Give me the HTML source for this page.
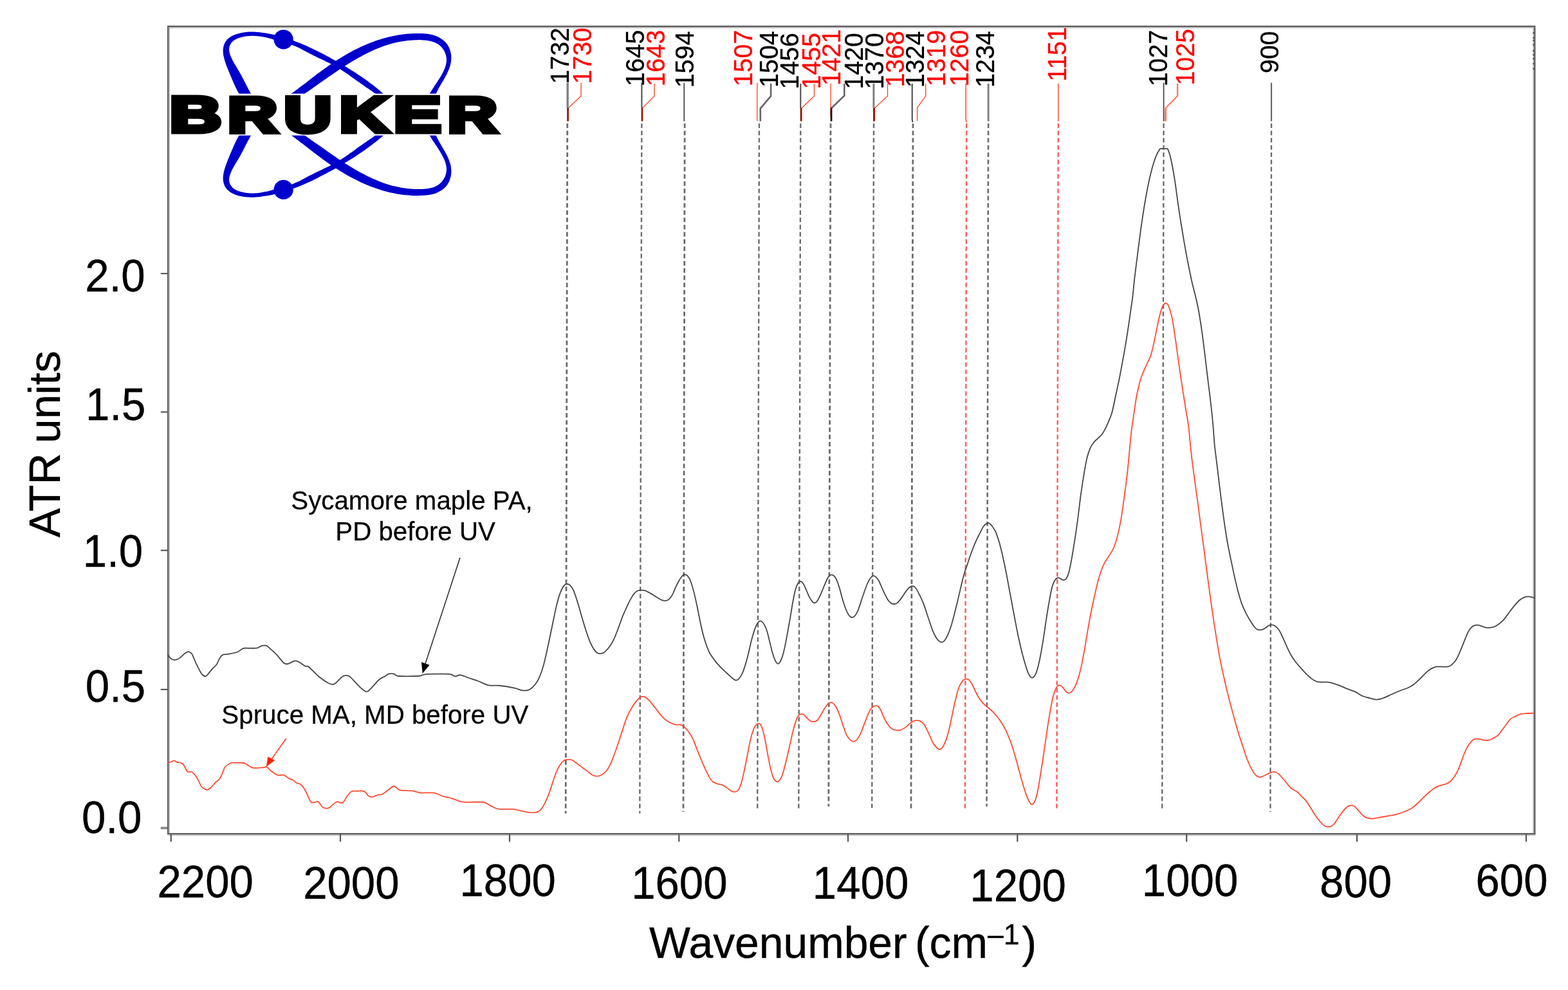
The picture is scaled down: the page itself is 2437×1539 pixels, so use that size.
<!DOCTYPE html>
<html lang="en"><head><meta charset="utf-8"><title>ATR-FTIR spectra</title>
<style>html,body{margin:0;padding:0;background:#fff}body{width:2437px;height:1539px;overflow:hidden}svg{display:block}text{font-family:"Liberation Sans", Arial, Helvetica, sans-serif;}</style></head><body>
<svg xmlns="http://www.w3.org/2000/svg" width="2437" height="1539" viewBox="0 0 2437 1539">
<rect width="2437" height="1539" fill="#fff"/>
<g fill="#0000cc">
<path d="M372.83 147.7C372.17 146.57 370.12 143.2 368.88 140.9C367.64 138.6 366.5 136.26 365.39 133.91C364.28 131.57 363.24 129.19 362.2 126.81C361.17 124.43 360.18 122.04 359.17 119.65C358.17 117.26 357.16 114.88 356.17 112.49C355.17 110.1 354.15 107.72 353.2 105.29C352.25 102.87 351.31 100.43 350.48 97.93C349.65 95.42 348.83 92.86 348.21 90.27C347.6 87.67 347.02 84.99 346.81 82.38C346.6 79.76 346.55 77.1 346.94 74.59C347.33 72.07 348.06 69.54 349.14 67.29C350.21 65.04 351.67 62.89 353.39 61.09C355.12 59.28 357.26 57.77 359.47 56.46C361.69 55.15 364.22 54.13 366.69 53.24C369.16 52.35 371.74 51.68 374.3 51.13C376.85 50.57 379.44 50.2 382.03 49.93C384.61 49.65 387.22 49.54 389.83 49.5C392.44 49.47 395.06 49.57 397.67 49.73C400.28 49.89 402.89 50.15 405.49 50.46C408.09 50.77 410.69 51.16 413.26 51.58C415.84 52.01 418.4 52.48 420.95 53C423.5 53.52 426.04 54.09 428.56 54.7C431.08 55.31 433.59 55.97 436.09 56.66C438.59 57.36 441.08 58.1 443.55 58.87C446.03 59.64 448.49 60.46 450.94 61.3C453.4 62.15 455.84 63.04 458.27 63.95C460.69 64.86 463.11 65.81 465.52 66.79C467.93 67.77 470.33 68.78 472.72 69.81C475.1 70.84 477.48 71.91 479.85 72.99C482.22 74.08 484.58 75.19 486.93 76.32C489.28 77.45 491.62 78.6 493.95 79.77C496.28 80.94 498.6 82.13 500.92 83.34C503.24 84.54 505.54 85.77 507.84 87C510.14 88.23 512.43 89.48 514.72 90.74C517 91.99 519.28 93.26 521.55 94.54C523.82 95.82 526.08 97.11 528.34 98.41C530.59 99.72 532.83 101.03 535.07 102.36C537.3 103.69 539.53 105.04 541.74 106.4C543.96 107.76 546.16 109.13 548.35 110.53C550.55 111.92 552.73 113.33 554.9 114.76C557.07 116.18 559.23 117.63 561.37 119.09C563.52 120.56 565.65 122.04 567.77 123.55C569.89 125.05 572 126.58 574.09 128.13C576.18 129.67 578.26 131.24 580.32 132.84C582.39 134.43 584.44 136.05 586.47 137.69C588.5 139.33 590.52 140.99 592.52 142.69C594.52 144.38 597.48 146.98 598.47 147.84L586.41 147.72C585.41 147.02 582.43 144.9 580.43 143.51C578.43 142.11 576.41 140.74 574.41 139.36C572.4 137.98 570.38 136.61 568.38 135.22C566.37 133.84 564.36 132.46 562.36 131.06C560.37 129.66 558.38 128.25 556.39 126.83C554.41 125.41 552.44 123.97 550.45 122.54C548.47 121.11 546.5 119.68 544.51 118.26C542.52 116.85 540.53 115.43 538.52 114.05C536.51 112.67 534.49 111.3 532.45 109.97C530.4 108.65 528.34 107.35 526.26 106.09C524.17 104.84 522.06 103.62 519.93 102.44C517.8 101.26 515.64 100.12 513.48 99C511.32 97.88 509.14 96.8 506.95 95.72C504.77 94.65 502.57 93.61 500.37 92.56C498.17 91.5 495.97 90.47 493.77 89.41C491.57 88.35 489.38 87.3 487.19 86.21C485.01 85.11 482.84 83.99 480.67 82.86C478.5 81.73 476.34 80.57 474.18 79.44C472.01 78.3 469.85 77.15 467.67 76.06C465.49 74.96 463.3 73.87 461.09 72.86C458.88 71.85 456.65 70.87 454.39 69.97C452.13 69.08 449.83 68.27 447.52 67.5C445.21 66.73 442.87 66.04 440.53 65.37C438.19 64.7 435.82 64.08 433.46 63.46C431.1 62.83 428.73 62.24 426.38 61.63C424.02 61.03 421.67 60.39 419.32 59.81C416.97 59.22 414.63 58.62 412.26 58.12C409.9 57.61 407.53 57.14 405.14 56.78C402.75 56.42 400.34 56.13 397.93 55.95C395.51 55.78 393.09 55.7 390.64 55.75C388.2 55.8 385.75 55.96 383.29 56.28C380.82 56.6 378.31 57.03 375.86 57.66C373.41 58.29 370.85 59.03 368.59 60.06C366.34 61.08 364.1 62.29 362.33 63.81C360.56 65.33 359 67.2 357.98 69.18C356.95 71.16 356.32 73.45 356.16 75.71C355.99 77.96 356.43 80.39 357 82.73C357.57 85.07 358.6 87.48 359.59 89.77C360.59 92.06 361.79 94.28 362.97 96.46C364.16 98.64 365.45 100.74 366.71 102.85C367.97 104.97 369.28 107.03 370.52 109.13C371.76 111.23 372.98 113.33 374.15 115.46C375.32 117.58 376.43 119.73 377.55 121.88C378.66 124.03 379.74 126.2 380.84 128.36C381.93 130.52 383.01 132.69 384.14 134.85C385.26 137.01 386.39 139.17 387.59 141.31C388.78 143.45 390.69 146.63 391.31 147.69Z"/><path d="M450.01 147.66C451.05 146.9 454.19 144.64 456.27 143.11C458.34 141.58 460.4 140.04 462.45 138.5C464.51 136.95 466.55 135.39 468.59 133.83C470.63 132.28 472.66 130.71 474.69 129.14C476.72 127.58 478.75 126.01 480.78 124.45C482.81 122.88 484.84 121.32 486.87 119.76C488.91 118.2 490.95 116.65 492.99 115.11C495.04 113.57 497.09 112.03 499.16 110.51C501.22 108.99 503.3 107.48 505.38 105.98C507.47 104.49 509.57 103.01 511.68 101.55C513.79 100.09 515.92 98.64 518.05 97.22C520.19 95.79 522.34 94.38 524.51 93C526.67 91.62 528.85 90.26 531.04 88.92C533.23 87.58 535.44 86.27 537.66 84.98C539.89 83.7 542.12 82.43 544.37 81.2C546.63 79.97 548.9 78.77 551.18 77.6C553.46 76.43 555.76 75.29 558.08 74.18C560.4 73.08 562.73 72 565.07 70.96C567.42 69.93 569.78 68.92 572.16 67.96C574.53 66.99 576.92 66.06 579.33 65.17C581.73 64.28 584.15 63.43 586.58 62.62C589.01 61.81 591.45 61.04 593.91 60.31C596.36 59.59 598.83 58.9 601.31 58.26C603.79 57.62 606.28 57.03 608.79 56.48C611.29 55.93 613.8 55.43 616.33 54.98C618.85 54.53 621.39 54.12 623.93 53.77C626.48 53.42 629.03 53.12 631.6 52.87C634.16 52.62 636.74 52.42 639.32 52.28C641.9 52.13 644.49 52.04 647.09 52.01C649.69 51.98 652.3 51.99 654.91 52.09C657.51 52.19 660.14 52.32 662.72 52.62C665.3 52.91 667.87 53.28 670.38 53.85C672.89 54.43 675.39 55.13 677.77 56.06C680.15 56.99 682.52 58.12 684.69 59.44C686.86 60.77 688.95 62.29 690.78 64.01C692.6 65.73 694.26 67.67 695.64 69.75C697.01 71.83 698.15 74.15 699.03 76.5C699.91 78.86 700.55 81.39 700.94 83.9C701.33 86.41 701.47 89.02 701.38 91.56C701.29 94.09 700.93 96.63 700.4 99.12C699.87 101.6 699.09 104.05 698.21 106.47C697.33 108.89 696.24 111.28 695.11 113.65C693.98 116.01 692.7 118.35 691.43 120.67C690.15 122.99 688.77 125.28 687.45 127.55C686.13 129.83 684.76 132.08 683.5 134.32C682.24 136.57 680.98 138.79 679.88 141C678.78 143.22 677.4 146.52 676.9 147.62L666.54 147.75C667.14 146.76 668.93 143.73 670.15 141.78C671.37 139.82 672.61 137.93 673.85 136.02C675.08 134.12 676.34 132.25 677.58 130.35C678.82 128.44 680.07 126.56 681.3 124.61C682.53 122.66 683.77 120.69 684.95 118.66C686.14 116.63 687.35 114.55 688.42 112.43C689.48 110.3 690.52 108.13 691.33 105.94C692.15 103.75 692.88 101.52 693.32 99.28C693.76 97.04 694.04 94.77 693.99 92.51C693.93 90.26 693.6 87.95 693.01 85.76C692.43 83.56 691.55 81.35 690.48 79.34C689.42 77.33 688.09 75.37 686.63 73.68C685.16 71.98 683.47 70.46 681.67 69.18C679.88 67.9 677.9 66.87 675.84 65.99C673.79 65.11 671.6 64.46 669.36 63.91C667.13 63.37 664.79 63.01 662.44 62.73C660.1 62.44 657.68 62.31 655.3 62.21C652.92 62.11 650.52 62.11 648.16 62.14C645.79 62.18 643.44 62.27 641.1 62.42C638.77 62.56 636.45 62.76 634.14 63.01C631.84 63.26 629.55 63.57 627.27 63.92C625 64.27 622.74 64.67 620.49 65.11C618.24 65.56 616.01 66.05 613.79 66.59C611.58 67.12 609.37 67.7 607.18 68.32C604.99 68.95 602.81 69.61 600.64 70.31C598.48 71.01 596.32 71.76 594.18 72.53C592.04 73.31 589.91 74.13 587.79 74.97C585.68 75.82 583.57 76.71 581.48 77.62C579.38 78.53 577.3 79.48 575.22 80.46C573.15 81.43 571.09 82.44 569.04 83.47C566.98 84.5 564.94 85.56 562.91 86.65C560.88 87.73 558.85 88.84 556.84 89.97C554.83 91.1 552.82 92.26 550.83 93.43C548.83 94.6 546.84 95.79 544.86 97C542.88 98.21 540.91 99.44 538.95 100.68C536.99 101.92 535.03 103.18 533.08 104.45C531.13 105.72 529.19 107 527.26 108.29C525.32 109.58 523.39 110.89 521.47 112.19C519.55 113.5 517.63 114.82 515.72 116.14C513.81 117.47 511.91 118.79 510.01 120.12C508.11 121.45 506.21 122.79 504.32 124.12C502.43 125.45 500.55 126.79 498.67 128.12C496.79 129.45 494.91 130.78 493.03 132.11C491.16 133.43 489.29 134.75 487.42 136.07C485.56 137.38 483.69 138.69 481.83 139.99C479.97 141.28 478.11 142.57 476.26 143.85C474.4 145.13 471.62 147.01 470.69 147.64Z"/><circle cx="440.6" cy="61.3" r="15.1"/>
<g transform="translate(0 356.2) scale(1 -1)"><path d="M372.83 147.7C372.17 146.57 370.12 143.2 368.88 140.9C367.64 138.6 366.5 136.26 365.39 133.91C364.28 131.57 363.24 129.19 362.2 126.81C361.17 124.43 360.18 122.04 359.17 119.65C358.17 117.26 357.16 114.88 356.17 112.49C355.17 110.1 354.15 107.72 353.2 105.29C352.25 102.87 351.31 100.43 350.48 97.93C349.65 95.42 348.83 92.86 348.21 90.27C347.6 87.67 347.02 84.99 346.81 82.38C346.6 79.76 346.55 77.1 346.94 74.59C347.33 72.07 348.06 69.54 349.14 67.29C350.21 65.04 351.67 62.89 353.39 61.09C355.12 59.28 357.26 57.77 359.47 56.46C361.69 55.15 364.22 54.13 366.69 53.24C369.16 52.35 371.74 51.68 374.3 51.13C376.85 50.57 379.44 50.2 382.03 49.93C384.61 49.65 387.22 49.54 389.83 49.5C392.44 49.47 395.06 49.57 397.67 49.73C400.28 49.89 402.89 50.15 405.49 50.46C408.09 50.77 410.69 51.16 413.26 51.58C415.84 52.01 418.4 52.48 420.95 53C423.5 53.52 426.04 54.09 428.56 54.7C431.08 55.31 433.59 55.97 436.09 56.66C438.59 57.36 441.08 58.1 443.55 58.87C446.03 59.64 448.49 60.46 450.94 61.3C453.4 62.15 455.84 63.04 458.27 63.95C460.69 64.86 463.11 65.81 465.52 66.79C467.93 67.77 470.33 68.78 472.72 69.81C475.1 70.84 477.48 71.91 479.85 72.99C482.22 74.08 484.58 75.19 486.93 76.32C489.28 77.45 491.62 78.6 493.95 79.77C496.28 80.94 498.6 82.13 500.92 83.34C503.24 84.54 505.54 85.77 507.84 87C510.14 88.23 512.43 89.48 514.72 90.74C517 91.99 519.28 93.26 521.55 94.54C523.82 95.82 526.08 97.11 528.34 98.41C530.59 99.72 532.83 101.03 535.07 102.36C537.3 103.69 539.53 105.04 541.74 106.4C543.96 107.76 546.16 109.13 548.35 110.53C550.55 111.92 552.73 113.33 554.9 114.76C557.07 116.18 559.23 117.63 561.37 119.09C563.52 120.56 565.65 122.04 567.77 123.55C569.89 125.05 572 126.58 574.09 128.13C576.18 129.67 578.26 131.24 580.32 132.84C582.39 134.43 584.44 136.05 586.47 137.69C588.5 139.33 590.52 140.99 592.52 142.69C594.52 144.38 597.48 146.98 598.47 147.84L586.41 147.72C585.41 147.02 582.43 144.9 580.43 143.51C578.43 142.11 576.41 140.74 574.41 139.36C572.4 137.98 570.38 136.61 568.38 135.22C566.37 133.84 564.36 132.46 562.36 131.06C560.37 129.66 558.38 128.25 556.39 126.83C554.41 125.41 552.44 123.97 550.45 122.54C548.47 121.11 546.5 119.68 544.51 118.26C542.52 116.85 540.53 115.43 538.52 114.05C536.51 112.67 534.49 111.3 532.45 109.97C530.4 108.65 528.34 107.35 526.26 106.09C524.17 104.84 522.06 103.62 519.93 102.44C517.8 101.26 515.64 100.12 513.48 99C511.32 97.88 509.14 96.8 506.95 95.72C504.77 94.65 502.57 93.61 500.37 92.56C498.17 91.5 495.97 90.47 493.77 89.41C491.57 88.35 489.38 87.3 487.19 86.21C485.01 85.11 482.84 83.99 480.67 82.86C478.5 81.73 476.34 80.57 474.18 79.44C472.01 78.3 469.85 77.15 467.67 76.06C465.49 74.96 463.3 73.87 461.09 72.86C458.88 71.85 456.65 70.87 454.39 69.97C452.13 69.08 449.83 68.27 447.52 67.5C445.21 66.73 442.87 66.04 440.53 65.37C438.19 64.7 435.82 64.08 433.46 63.46C431.1 62.83 428.73 62.24 426.38 61.63C424.02 61.03 421.67 60.39 419.32 59.81C416.97 59.22 414.63 58.62 412.26 58.12C409.9 57.61 407.53 57.14 405.14 56.78C402.75 56.42 400.34 56.13 397.93 55.95C395.51 55.78 393.09 55.7 390.64 55.75C388.2 55.8 385.75 55.96 383.29 56.28C380.82 56.6 378.31 57.03 375.86 57.66C373.41 58.29 370.85 59.03 368.59 60.06C366.34 61.08 364.1 62.29 362.33 63.81C360.56 65.33 359 67.2 357.98 69.18C356.95 71.16 356.32 73.45 356.16 75.71C355.99 77.96 356.43 80.39 357 82.73C357.57 85.07 358.6 87.48 359.59 89.77C360.59 92.06 361.79 94.28 362.97 96.46C364.16 98.64 365.45 100.74 366.71 102.85C367.97 104.97 369.28 107.03 370.52 109.13C371.76 111.23 372.98 113.33 374.15 115.46C375.32 117.58 376.43 119.73 377.55 121.88C378.66 124.03 379.74 126.2 380.84 128.36C381.93 130.52 383.01 132.69 384.14 134.85C385.26 137.01 386.39 139.17 387.59 141.31C388.78 143.45 390.69 146.63 391.31 147.69Z"/><path d="M450.01 147.66C451.05 146.9 454.19 144.64 456.27 143.11C458.34 141.58 460.4 140.04 462.45 138.5C464.51 136.95 466.55 135.39 468.59 133.83C470.63 132.28 472.66 130.71 474.69 129.14C476.72 127.58 478.75 126.01 480.78 124.45C482.81 122.88 484.84 121.32 486.87 119.76C488.91 118.2 490.95 116.65 492.99 115.11C495.04 113.57 497.09 112.03 499.16 110.51C501.22 108.99 503.3 107.48 505.38 105.98C507.47 104.49 509.57 103.01 511.68 101.55C513.79 100.09 515.92 98.64 518.05 97.22C520.19 95.79 522.34 94.38 524.51 93C526.67 91.62 528.85 90.26 531.04 88.92C533.23 87.58 535.44 86.27 537.66 84.98C539.89 83.7 542.12 82.43 544.37 81.2C546.63 79.97 548.9 78.77 551.18 77.6C553.46 76.43 555.76 75.29 558.08 74.18C560.4 73.08 562.73 72 565.07 70.96C567.42 69.93 569.78 68.92 572.16 67.96C574.53 66.99 576.92 66.06 579.33 65.17C581.73 64.28 584.15 63.43 586.58 62.62C589.01 61.81 591.45 61.04 593.91 60.31C596.36 59.59 598.83 58.9 601.31 58.26C603.79 57.62 606.28 57.03 608.79 56.48C611.29 55.93 613.8 55.43 616.33 54.98C618.85 54.53 621.39 54.12 623.93 53.77C626.48 53.42 629.03 53.12 631.6 52.87C634.16 52.62 636.74 52.42 639.32 52.28C641.9 52.13 644.49 52.04 647.09 52.01C649.69 51.98 652.3 51.99 654.91 52.09C657.51 52.19 660.14 52.32 662.72 52.62C665.3 52.91 667.87 53.28 670.38 53.85C672.89 54.43 675.39 55.13 677.77 56.06C680.15 56.99 682.52 58.12 684.69 59.44C686.86 60.77 688.95 62.29 690.78 64.01C692.6 65.73 694.26 67.67 695.64 69.75C697.01 71.83 698.15 74.15 699.03 76.5C699.91 78.86 700.55 81.39 700.94 83.9C701.33 86.41 701.47 89.02 701.38 91.56C701.29 94.09 700.93 96.63 700.4 99.12C699.87 101.6 699.09 104.05 698.21 106.47C697.33 108.89 696.24 111.28 695.11 113.65C693.98 116.01 692.7 118.35 691.43 120.67C690.15 122.99 688.77 125.28 687.45 127.55C686.13 129.83 684.76 132.08 683.5 134.32C682.24 136.57 680.98 138.79 679.88 141C678.78 143.22 677.4 146.52 676.9 147.62L666.54 147.75C667.14 146.76 668.93 143.73 670.15 141.78C671.37 139.82 672.61 137.93 673.85 136.02C675.08 134.12 676.34 132.25 677.58 130.35C678.82 128.44 680.07 126.56 681.3 124.61C682.53 122.66 683.77 120.69 684.95 118.66C686.14 116.63 687.35 114.55 688.42 112.43C689.48 110.3 690.52 108.13 691.33 105.94C692.15 103.75 692.88 101.52 693.32 99.28C693.76 97.04 694.04 94.77 693.99 92.51C693.93 90.26 693.6 87.95 693.01 85.76C692.43 83.56 691.55 81.35 690.48 79.34C689.42 77.33 688.09 75.37 686.63 73.68C685.16 71.98 683.47 70.46 681.67 69.18C679.88 67.9 677.9 66.87 675.84 65.99C673.79 65.11 671.6 64.46 669.36 63.91C667.13 63.37 664.79 63.01 662.44 62.73C660.1 62.44 657.68 62.31 655.3 62.21C652.92 62.11 650.52 62.11 648.16 62.14C645.79 62.18 643.44 62.27 641.1 62.42C638.77 62.56 636.45 62.76 634.14 63.01C631.84 63.26 629.55 63.57 627.27 63.92C625 64.27 622.74 64.67 620.49 65.11C618.24 65.56 616.01 66.05 613.79 66.59C611.58 67.12 609.37 67.7 607.18 68.32C604.99 68.95 602.81 69.61 600.64 70.31C598.48 71.01 596.32 71.76 594.18 72.53C592.04 73.31 589.91 74.13 587.79 74.97C585.68 75.82 583.57 76.71 581.48 77.62C579.38 78.53 577.3 79.48 575.22 80.46C573.15 81.43 571.09 82.44 569.04 83.47C566.98 84.5 564.94 85.56 562.91 86.65C560.88 87.73 558.85 88.84 556.84 89.97C554.83 91.1 552.82 92.26 550.83 93.43C548.83 94.6 546.84 95.79 544.86 97C542.88 98.21 540.91 99.44 538.95 100.68C536.99 101.92 535.03 103.18 533.08 104.45C531.13 105.72 529.19 107 527.26 108.29C525.32 109.58 523.39 110.89 521.47 112.19C519.55 113.5 517.63 114.82 515.72 116.14C513.81 117.47 511.91 118.79 510.01 120.12C508.11 121.45 506.21 122.79 504.32 124.12C502.43 125.45 500.55 126.79 498.67 128.12C496.79 129.45 494.91 130.78 493.03 132.11C491.16 133.43 489.29 134.75 487.42 136.07C485.56 137.38 483.69 138.69 481.83 139.99C479.97 141.28 478.11 142.57 476.26 143.85C474.4 145.13 471.62 147.01 470.69 147.64Z"/><circle cx="440.6" cy="61.3" r="15.1"/></g>
</g>
<rect x="330" y="145.6" width="400" height="65" fill="#fff"/>
<g font-size="77" font-weight="bold" fill="#000" stroke="#000" stroke-width="7" stroke-linejoin="miter" stroke-miterlimit="8">
<text transform="translate(263.81 204.5) scale(1.4474 1.0004)">B</text>
<text transform="translate(353.91 204.5) scale(1.3852 1.0004)">R</text>
<text transform="translate(441.51 204.5) scale(1.3269 1.0004)">U</text>
<text transform="translate(527.73 204.5) scale(1.3747 1.0004)">K</text>
<text transform="translate(611.94 204.5) scale(1.4303 1.0004)">E</text>
<text transform="translate(695.71 204.5) scale(1.3852 1.0004)">R</text>
</g>
<g fill="none" stroke-linecap="butt">
<rect x="261.2" y="41" width="2124.1" height="1255.2" stroke="#5c5c5c" stroke-width="2.4"/>
<path d="M262.2 43 H2384.3 M263.2 42 V1295.2 M2383.3 42 V1295.2 M262.2 1298.1 H2386.3" stroke="#b4b4b4" stroke-width="1.6"/>
<path d="M265.8 1297.2 V1308.4M529 1297.2 V1308.4M792 1297.2 V1308.4M1055.3 1297.2 V1308.4M1318 1297.2 V1308.4M1581.3 1297.2 V1308.4M1844.2 1297.2 V1308.4M2109 1297.2 V1308.4M2372 1297.2 V1308.4" stroke="#555" stroke-width="2.2"/>
<path d="M249.8 425.3H260.2" stroke="#3c3c3c" stroke-width="1.8"/>
<path d="M249.8 640.5H260.2" stroke="#808080" stroke-width="3"/>
<path d="M249.8 855.6H260.2" stroke="#484848" stroke-width="2"/>
<path d="M249.8 1071.8H260.2" stroke="#484848" stroke-width="2"/>
<path d="M249.8 1287.2H260.2" stroke="#8a8a8a" stroke-width="3.8"/>
<path d="M2383.4 50.2v2.4M2383.4 57.7v2.4M2383.4 61.7v2.4M2383.4 68.3v2.4M2383.4 77.8v2.4M2383.4 84.1v2.4M2383.4 90v2.4M2383.4 97.8v2.4M2383.4 105.8v2.4" stroke="#4a4a4a" stroke-width="2"/>
</g>
<g font-size="70.2" fill="#000" stroke="#000" stroke-width="0.4">
<text transform="translate(244.47 1395) scale(0.9570 1)">2200</text>
<text transform="translate(471.17 1397.1) scale(0.9570 1)">2000</text>
<text transform="translate(714.47 1393) scale(0.9570 1)">1800</text>
<text transform="translate(981.17 1397.1) scale(0.9570 1)">1600</text>
<text transform="translate(1262.87 1397) scale(0.9570 1)">1400</text>
<text transform="translate(1507.37 1401.2) scale(0.9570 1)">1200</text>
<text transform="translate(1774.87 1393) scale(0.9570 1)">1000</text>
<text transform="translate(2051.03 1395) scale(0.9570 1)">800</text>
<text transform="translate(2293.43 1393.4) scale(0.9570 1)">600</text>
<text transform="translate(132.33 453) scale(0.9570 1)">2.0</text>
<text transform="translate(133.03 652.9) scale(0.9570 1)">1.5</text>
<text transform="translate(128.83 881.4) scale(0.9570 1)">1.0</text>
<text transform="translate(132.83 1091) scale(0.9570 1)">0.5</text>
<text transform="translate(127.03 1295) scale(0.9570 1)">0.0</text>
</g>
<g font-size="67.8" fill="#000" stroke="#000" stroke-width="0.4">
<text transform="translate(1009 1489.4) scale(1.0000 1)">Wavenumber <tspan x="412.99">(cm</tspan><tspan font-size="44.5" x="526" dy="-21.4">–1</tspan><tspan x="579.62" dy="21.4">)</tspan></text>
<text font-size="68.1" transform="translate(92.9 835.5) rotate(-90)">ATR <tspan x="146.38">units</tspan></text>
</g>
<g fill="none" stroke-dasharray="7 4.25">
<line x1="881.8" y1="192" x2="879.2" y2="1264.5" stroke="#6c6c6c" stroke-width="2.8"/>
<line x1="997.4" y1="192" x2="994.3" y2="1264.5" stroke="#6c6c6c" stroke-width="2.4"/>
<line x1="1064.2" y1="192" x2="1062" y2="1262" stroke="#6c6c6c" stroke-width="2.8"/>
<line x1="1180" y1="192" x2="1177.2" y2="1257" stroke="#6c6c6c" stroke-width="2.4"/>
<line x1="1244.3" y1="192" x2="1241.3" y2="1257" stroke="#6c6c6c" stroke-width="2.4"/>
<line x1="1291" y1="192" x2="1287.8" y2="1253.7" stroke="#6c6c6c" stroke-width="2.8"/>
<line x1="1358" y1="192" x2="1355.2" y2="1255.9" stroke="#6c6c6c" stroke-width="2.4"/>
<line x1="1419" y1="192" x2="1415.9" y2="1258.7" stroke="#6c6c6c" stroke-width="2.8"/>
<line x1="1502.2" y1="192" x2="1499.9" y2="1258.7" stroke="#ff5a5a" stroke-width="2.4"/>
<line x1="1536.1" y1="192" x2="1533.5" y2="1253.7" stroke="#6c6c6c" stroke-width="2.6"/>
<line x1="1644.8" y1="192" x2="1642.4" y2="1258.7" stroke="#ff5a5a" stroke-width="2.4"/>
<line x1="1808.6" y1="192" x2="1806.2" y2="1258.7" stroke="#6c6c6c" stroke-width="2.4"/>
<line x1="1976" y1="192" x2="1974.4" y2="1262" stroke="#6c6c6c" stroke-width="2.4"/>
</g>
<g fill="none" stroke-linejoin="miter">
<polyline points="903.1,128.7 903.1,149.3 883.1,168 883.1,188" stroke="#ff4a2a" stroke-width="1.4"/>
<polyline points="882.2,128.7 882.2,168.5" stroke="#808080" stroke-width="3.4"/>
<polyline points="882.6,168 882.6,188.5" stroke="#8a1200" stroke-width="2.6"/>
<polyline points="1017,130 1017,149.3 998.6,168 998.6,188" stroke="#ff4a2a" stroke-width="1.4"/>
<polyline points="997.4,128.7 997.4,168.5" stroke="#484848" stroke-width="2"/>
<polyline points="997.9,168 997.9,188.5" stroke="#8a1200" stroke-width="2.4"/>
<polyline points="1063.3,128.7 1063.3,188.5" stroke="#484848" stroke-width="1.8"/>
<polyline points="1176.8,128.7 1176.8,188" stroke="#ff4a2a" stroke-width="1.4"/>
<polyline points="1198.1,130 1198.1,149.3 1181.8,168.6 1181.8,188.5" stroke="#666666" stroke-width="2.6"/>
<polyline points="1265.5,130 1265.5,149.3 1245.9,168 1245.9,188" stroke="#ff4a2a" stroke-width="1.4"/>
<polyline points="1244.3,130 1244.3,168.5" stroke="#484848" stroke-width="2"/>
<polyline points="1244.9,168 1244.9,188.5" stroke="#8a1200" stroke-width="2.4"/>
<polyline points="1291.1,130 1291.1,182" stroke="#ff4a2a" stroke-width="1.4"/>
<polyline points="1312.3,130 1312.3,148.7 1292.4,168" stroke="#666666" stroke-width="2.6"/>
<polyline points="1292,167.5 1292,188.5" stroke="#2a0a06" stroke-width="2.8"/>
<polyline points="1379.5,130 1379.5,149.3 1359.5,168 1359.5,188" stroke="#ff4a2a" stroke-width="1.4"/>
<polyline points="1357.9,130 1357.9,168.5" stroke="#808080" stroke-width="3"/>
<polyline points="1358.4,168 1358.4,188.5" stroke="#8a1200" stroke-width="2.6"/>
<polyline points="1417.7,130 1417.7,186 1418.6,190" stroke="#484848" stroke-width="2"/>
<polyline points="1438.7,130 1438.7,149.3 1425.6,167.4 1425.6,188" stroke="#ff4a2a" stroke-width="1.4"/>
<polyline points="1501.2,130 1501.2,186 1502.2,190" stroke="#ff4a2a" stroke-width="1.5"/>
<polyline points="1536.1,130 1536.1,188.5" stroke="#808080" stroke-width="3"/>
<polyline points="1644.8,130 1644.8,188.5" stroke="#ff4a2a" stroke-width="1.5"/>
<polyline points="1808.6,128.7 1808.6,188.5" stroke="#484848" stroke-width="1.8"/>
<polyline points="1830.1,130 1830.1,149.3" stroke="#ff7a66" stroke-width="2.4"/>
<polyline points="1830.1,149.3 1811.3,168.6" stroke="#ff4a2a" stroke-width="1.5"/>
<polyline points="1811.6,168.2 1811.6,188.5" stroke="#ff7a66" stroke-width="3"/>
<polyline points="1976,128.7 1976,188.5" stroke="#666666" stroke-width="2.2"/>
</g>
<g font-size="40" stroke-width="0.3">
<text transform="translate(883.57 130.6) rotate(-90) scale(0.9850 1)" fill="#000000" stroke="#000000">1732</text>
<text transform="translate(918.72 130.6) rotate(-90) scale(0.9850 1)" fill="#ff0000" stroke="#ff0000">1730</text>
<text transform="translate(1000.67 134.3) rotate(-90) scale(0.9850 1)" fill="#000000" stroke="#000000">1645</text>
<text transform="translate(1033.07 134.3) rotate(-90) scale(0.9850 1)" fill="#ff0000" stroke="#ff0000">1643</text>
<text transform="translate(1077.62 136.2) rotate(-90) scale(0.9850 1)" fill="#000000" stroke="#000000">1594</text>
<text transform="translate(1169.07 134.3) rotate(-90) scale(0.9850 1)" fill="#ff0000" stroke="#ff0000">1507</text>
<text transform="translate(1208.92 135.9) rotate(-90) scale(0.9850 1)" fill="#000000" stroke="#000000">1504</text>
<text transform="translate(1241.27 138.7) rotate(-90) scale(0.9850 1)" fill="#000000" stroke="#000000">1456</text>
<text transform="translate(1274.57 138.7) rotate(-90) scale(0.9850 1)" fill="#ff0000" stroke="#ff0000">1455</text>
<text transform="translate(1305.92 133.1) rotate(-90) scale(0.9850 1)" fill="#ff0000" stroke="#ff0000">1421</text>
<text transform="translate(1340.92 138.7) rotate(-90) scale(0.9850 1)" fill="#000000" stroke="#000000">1420</text>
<text transform="translate(1372.82 138.7) rotate(-90) scale(0.9850 1)" fill="#000000" stroke="#000000">1370</text>
<text transform="translate(1405.12 135.6) rotate(-90) scale(0.9850 1)" fill="#ff0000" stroke="#ff0000">1368</text>
<text transform="translate(1435.92 136.2) rotate(-90) scale(0.9850 1)" fill="#000000" stroke="#000000">1324</text>
<text transform="translate(1469.02 134.3) rotate(-90) scale(0.9850 1)" fill="#ff0000" stroke="#ff0000">1319</text>
<text transform="translate(1504.92 134.3) rotate(-90) scale(0.9850 1)" fill="#ff0000" stroke="#ff0000">1260</text>
<text transform="translate(1544.77 135.9) rotate(-90) scale(0.9850 1)" fill="#000000" stroke="#000000">1234</text>
<text transform="translate(1656.87 126.8) rotate(-90) scale(0.9850 1)" fill="#ff0000" stroke="#ff0000">1151</text>
<text transform="translate(1813.97 134.3) rotate(-90) scale(0.9850 1)" fill="#000000" stroke="#000000">1027</text>
<text transform="translate(1855.52 132.4) rotate(-90) scale(0.9850 1)" fill="#ff0000" stroke="#ff0000">1025</text>
<text transform="translate(1987.27 114) rotate(-90) scale(0.9850 1)" fill="#000000" stroke="#000000">900</text>
</g>
<g fill="none" stroke-linejoin="round" stroke-linecap="butt">
<path d="M260.31 1017.38C261.37 1018.57 264.47 1023.15 266.63 1024.53C268.79 1025.92 271.07 1026.06 273.28 1025.7C275.5 1025.34 277.44 1024.17 279.94 1022.37C282.43 1020.57 285.98 1016.41 288.25 1014.89C290.53 1013.36 291.91 1012.95 293.58 1013.22C295.24 1013.5 296.35 1013.5 298.23 1016.55C300.12 1019.6 302.39 1026.39 304.89 1031.52C307.38 1036.65 310.85 1043.99 313.2 1047.32C315.56 1050.64 317.36 1051.34 319.02 1051.48C320.69 1051.61 321.38 1050.09 323.18 1048.15C324.98 1046.21 327.62 1042.33 329.83 1039.83C332.05 1037.34 334.55 1035.95 336.49 1033.18C338.43 1030.41 339.81 1025.75 341.48 1023.2C343.14 1020.65 343.97 1018.99 346.47 1017.88C348.96 1016.77 352.56 1017.33 356.44 1016.55C360.33 1015.77 366.15 1014.66 369.75 1013.22C373.35 1011.78 375.02 1008.81 378.07 1007.9C381.12 1006.99 384.44 1007.82 388.05 1007.73C391.65 1007.65 396.64 1008.01 399.69 1007.4C402.74 1006.79 403.98 1004.68 406.34 1004.07C408.7 1003.47 411.88 1003.33 413.83 1003.74C415.77 1004.16 415.35 1004.3 417.98 1006.57C420.62 1008.84 425.74 1013.36 429.63 1017.38C433.51 1021.4 438.22 1028.27 441.27 1030.69C444.32 1033.1 445.15 1032.4 447.92 1031.85C450.69 1031.3 455.13 1027.83 457.9 1027.36C460.67 1026.89 461.78 1027.64 464.55 1029.02C467.33 1030.41 472.04 1034.43 474.53 1035.68C477.03 1036.92 475.92 1033.74 479.52 1036.51C483.13 1039.28 491.16 1048.15 496.15 1052.31C501.14 1056.47 506.13 1059.51 509.46 1061.46C512.79 1063.4 514.17 1063.81 516.11 1063.95C518.05 1064.09 518.33 1064.37 521.1 1062.29C523.87 1060.21 529.7 1053.47 532.74 1051.48C535.79 1049.48 537.46 1050.17 539.4 1050.31C541.34 1050.45 541.34 1049.62 544.39 1052.31C547.44 1055 554.09 1062.92 557.69 1066.44C561.3 1069.97 563.51 1072.18 566.01 1073.43C568.5 1074.68 568.78 1076.76 572.66 1073.93C576.54 1071.1 585.14 1060.15 589.29 1056.47C593.45 1052.78 595.11 1053.28 597.61 1051.81C600.1 1050.34 601.77 1048.34 604.26 1047.65C606.76 1046.96 610.08 1047.1 612.58 1047.65C615.07 1048.21 612.99 1050.42 619.23 1050.98C625.47 1051.53 643.76 1051.26 650 1050.98C656.24 1050.69 653.88 1049.78 656.65 1049.27C659.42 1048.77 659.7 1048.16 666.63 1047.94C673.56 1047.72 691.44 1047.39 698.23 1047.94C705.02 1048.5 704.47 1051.05 707.38 1051.27C710.29 1051.49 712.23 1048.86 715.7 1049.27C719.16 1049.69 723.6 1052.18 728.17 1053.76C732.74 1055.34 737.87 1056.81 743.14 1058.75C748.41 1060.69 754.23 1064.24 759.77 1065.41C765.32 1066.57 769.75 1065.05 776.4 1065.74C783.06 1066.43 794.14 1068.37 799.69 1069.56C805.23 1070.76 806.62 1072.25 809.67 1072.89C812.72 1073.53 815.49 1073.72 817.98 1073.39C820.48 1073.06 822.42 1072.36 824.64 1070.89C826.85 1069.42 829.07 1067.43 831.29 1064.57C833.51 1061.72 835.72 1058.75 837.94 1053.76C840.16 1048.77 842.38 1042.54 844.59 1034.64C846.81 1026.74 849.03 1016.34 851.25 1006.36C853.47 996.38 855.68 985.29 857.9 974.76C860.12 964.23 862.61 951.48 864.55 943.16C866.49 934.84 867.88 929.85 869.54 924.86C871.21 919.88 873.01 915.94 874.53 913.22C876.06 910.51 877.44 909.45 878.69 908.57C879.94 907.68 880.77 907.68 882.02 907.9C883.26 908.12 884.65 908.32 886.17 909.9C887.7 911.48 889.22 912.95 891.16 917.38C893.1 921.82 895.6 929.44 897.82 936.51C900.03 943.58 902.25 952.31 904.47 959.79C906.69 967.28 908.91 974.76 911.12 981.41C913.34 988.07 915.56 994.72 917.78 999.71C919.99 1004.7 922.49 1008.72 924.43 1011.35C926.37 1013.98 927.75 1014.76 929.42 1015.51C931.08 1016.26 932.74 1016.12 934.41 1015.84C936.07 1015.56 937.18 1015.7 939.4 1013.85C941.61 1011.99 945.22 1008.16 947.71 1004.7C950.21 1001.23 952.15 997.77 954.37 993.06C956.58 988.34 958.8 982.25 961.02 976.42C963.24 970.6 965.45 963.67 967.67 958.13C969.89 952.58 972.11 947.87 974.32 943.16C976.54 938.45 979.04 933.32 980.98 929.85C982.92 926.39 984.3 924.26 985.97 922.37C987.63 920.49 989.29 919.38 990.96 918.54C992.62 917.71 994.01 917.44 995.95 917.38C997.89 917.33 1000.1 917.38 1002.6 918.21C1005.09 919.04 1007.87 920.65 1010.91 922.37C1013.96 924.09 1017.84 926.72 1020.89 928.52C1023.94 930.33 1026.72 932.35 1029.21 933.18C1031.7 934.01 1033.92 933.93 1035.86 933.51C1037.8 933.1 1039.19 932.4 1040.85 930.69C1042.52 928.97 1044.32 926.11 1045.84 923.2C1047.37 920.29 1048.48 916.55 1050 913.22C1051.52 909.9 1053.33 906.15 1054.99 903.24C1056.65 900.33 1058.45 897.42 1059.98 895.76C1061.5 894.1 1062.75 893.4 1064.14 893.26C1065.52 893.13 1066.77 893.26 1068.3 894.93C1069.82 896.59 1071.62 899.09 1073.28 903.24C1074.95 907.4 1076.61 913.5 1078.27 919.88C1079.94 926.25 1081.6 933.74 1083.26 941.5C1084.93 949.26 1086.59 958.68 1088.25 966.44C1089.92 974.21 1091.58 981.83 1093.24 988.07C1094.91 994.3 1096.57 999.29 1098.23 1003.87C1099.9 1008.44 1100.73 1011.21 1103.22 1015.51C1105.72 1019.81 1109.88 1025.49 1113.2 1029.65C1116.53 1033.8 1119.85 1037.13 1123.18 1040.46C1126.51 1043.78 1130.39 1047.11 1133.16 1049.6C1135.93 1052.1 1138.01 1054.1 1139.81 1055.43C1141.61 1056.76 1142.58 1057.59 1143.97 1057.59C1145.36 1057.59 1146.6 1057.03 1148.13 1055.43C1149.65 1053.82 1151.46 1051.41 1153.12 1047.94C1154.78 1044.48 1156.44 1039.9 1158.11 1034.64C1159.77 1029.37 1161.43 1022.99 1163.1 1016.34C1164.76 1009.69 1166.42 1001.09 1168.09 994.72C1169.75 988.34 1171.55 982.38 1173.08 978.09C1174.6 973.79 1175.99 971.02 1177.23 968.94C1178.48 966.86 1179.45 966.08 1180.56 965.61C1181.67 965.14 1182.64 965.14 1183.89 966.11C1185.14 967.08 1186.66 968.88 1188.05 971.43C1189.43 973.98 1190.82 976.98 1192.2 981.41C1193.59 985.85 1194.98 992.5 1196.36 998.05C1197.75 1003.59 1199.13 1009.97 1200.52 1014.68C1201.91 1019.39 1203.43 1023.55 1204.68 1026.32C1205.93 1029.09 1206.9 1030.62 1208 1031.31C1209.11 1032 1210.08 1032 1211.33 1030.48C1212.58 1028.95 1214.1 1026.18 1215.49 1022.16C1216.87 1018.14 1218.26 1012.6 1219.65 1006.36C1221.03 1000.12 1222.42 992.22 1223.8 984.74C1225.19 977.26 1226.58 969.49 1227.96 961.46C1229.35 953.42 1230.73 943.99 1232.12 936.51C1233.51 929.02 1234.89 921.54 1236.28 916.55C1237.66 911.56 1239.19 908.73 1240.44 906.57C1241.68 904.41 1242.52 903.58 1243.76 903.58C1245.01 903.58 1246.4 904.41 1247.92 906.57C1249.45 908.73 1251.25 912.95 1252.91 916.55C1254.57 920.15 1256.24 925 1257.9 928.19C1259.56 931.38 1261.5 934.15 1262.89 935.68C1264.28 937.2 1264.97 937.62 1266.22 937.34C1267.46 937.06 1268.71 936.51 1270.37 934.01C1272.04 931.52 1274.26 926.67 1276.2 922.37C1278.14 918.07 1280.21 912.39 1282.02 908.23C1283.82 904.07 1285.48 899.83 1287.01 897.42C1288.53 895.01 1289.78 894.23 1291.16 893.76C1292.55 893.29 1293.94 893.57 1295.32 894.59C1296.71 895.62 1297.96 896.81 1299.48 899.92C1301 903.02 1302.81 907.96 1304.47 913.22C1306.13 918.49 1307.8 925.97 1309.46 931.52C1311.12 937.06 1312.79 942.33 1314.45 946.49C1316.11 950.64 1317.78 954.25 1319.44 956.47C1321.1 958.68 1322.77 959.79 1324.43 959.79C1326.09 959.79 1327.75 958.68 1329.42 956.47C1331.08 954.25 1332.47 951.48 1334.41 946.49C1336.35 941.5 1338.84 932.9 1341.06 926.53C1343.28 920.15 1345.77 912.81 1347.71 908.23C1349.65 903.66 1351.18 901.25 1352.7 899.09C1354.23 896.92 1355.47 895.68 1356.86 895.26C1358.25 894.84 1359.49 895.26 1361.02 896.59C1362.54 897.92 1364.07 899.64 1366.01 903.24C1367.95 906.85 1370.44 913.5 1372.66 918.21C1374.88 922.92 1377.37 928.33 1379.31 931.52C1381.25 934.71 1382.64 936.09 1384.3 937.34C1385.97 938.59 1387.63 939 1389.29 939C1390.96 939 1392.34 938.86 1394.28 937.34C1396.22 935.81 1398.72 932.77 1400.94 929.85C1403.15 926.94 1405.51 922.65 1407.59 919.88C1409.67 917.1 1411.75 914.66 1413.41 913.22C1415.07 911.78 1416.04 911.23 1417.57 911.23C1419.09 911.23 1420.62 910.95 1422.56 913.22C1424.5 915.5 1426.99 920.43 1429.21 924.86C1431.43 929.3 1433.65 934.01 1435.86 939.83C1438.08 945.65 1440.16 952.86 1442.52 959.79C1444.87 966.72 1447.92 976.16 1450 981.41C1452.08 986.67 1453.33 988.69 1454.99 991.31C1456.65 993.93 1458.45 995.97 1459.98 997.13C1461.5 998.3 1462.75 998.57 1464.14 998.3C1465.52 998.02 1466.77 997.46 1468.3 995.47C1469.82 993.47 1471.62 990.06 1473.28 986.32C1474.95 982.58 1476.61 978.28 1478.27 973.01C1479.94 967.75 1481.6 961.09 1483.26 954.72C1484.93 948.34 1486.59 941.69 1488.25 934.76C1489.92 927.83 1491.58 920.07 1493.24 913.14C1494.91 906.21 1496.57 899 1498.23 893.18C1499.9 887.36 1501.56 883.2 1503.22 878.21C1504.89 873.22 1506.55 867.96 1508.21 863.24C1509.88 858.53 1511.54 854.1 1513.2 849.94C1514.86 845.78 1516.53 841.9 1518.19 838.3C1519.85 834.69 1521.52 831.57 1523.18 828.32C1524.84 825.07 1526.65 821.07 1528.17 818.79C1529.7 816.51 1531.08 815.61 1532.33 814.64C1533.58 813.67 1534.41 812.83 1535.65 812.97C1536.9 813.11 1538.29 813.94 1539.81 815.47C1541.34 816.99 1543.42 819.98 1544.8 822.12C1546.19 824.26 1546.74 824.79 1548.13 828.32C1549.51 831.84 1551.46 837.46 1553.12 843.28C1554.78 849.11 1556.44 856.04 1558.11 863.24C1559.77 870.45 1561.43 878.21 1563.1 886.53C1564.76 894.84 1566.42 904.27 1568.09 913.14C1569.75 922.01 1571.41 930.88 1573.08 939.75C1574.74 948.62 1576.4 957.77 1578.07 966.36C1579.73 974.95 1581.39 983.55 1583.06 991.31C1584.72 999.07 1586.38 1006.28 1588.05 1012.93C1589.71 1019.58 1591.37 1025.68 1593.04 1031.23C1594.7 1036.77 1596.5 1042.59 1598.02 1046.2C1599.55 1049.8 1600.94 1051.68 1602.18 1052.85C1603.43 1054.01 1604.26 1054.01 1605.51 1053.18C1606.76 1052.35 1608.28 1050.96 1609.67 1047.86C1611.05 1044.75 1612.44 1040.1 1613.83 1034.55C1615.21 1029.01 1616.6 1022.08 1617.98 1014.59C1619.37 1007.11 1620.76 998.52 1622.14 989.65C1623.53 980.78 1624.91 970.24 1626.3 961.37C1627.69 952.5 1629.07 944.19 1630.46 936.42C1631.84 928.66 1633.37 920.07 1634.62 914.8C1635.86 909.54 1636.83 907.26 1637.94 904.82C1639.05 902.38 1640.16 901.28 1641.27 900.17C1642.38 899.06 1643.35 898.23 1644.59 898.17C1645.84 898.12 1647.37 899.22 1648.75 899.83C1650.14 900.44 1651.52 901.83 1652.91 901.83C1654.3 901.83 1655.68 901.83 1657.07 899.83C1658.45 897.84 1659.84 894.84 1661.23 889.85C1662.61 884.86 1664 877.38 1665.38 869.9C1666.77 862.41 1668.02 854.71 1669.54 844.95C1671.07 835.18 1672.87 823.57 1674.53 811.31C1676.2 799.05 1677.86 783.59 1679.52 771.39C1681.19 759.2 1682.85 748.11 1684.51 738.13C1686.17 728.15 1687.84 718.45 1689.5 711.52C1691.16 704.59 1692.83 700.43 1694.49 696.55C1696.15 692.67 1697.54 690.73 1699.48 688.23C1701.42 685.74 1703.92 683.8 1706.13 681.58C1708.35 679.36 1710.57 677.98 1712.79 674.93C1715 671.88 1717.5 667.17 1719.44 663.28C1721.38 659.4 1722.9 655.52 1724.43 651.64C1725.95 647.76 1726.85 646.72 1728.59 640C1730.32 633.28 1732.95 619.97 1734.82 611.31C1736.69 602.65 1738.15 596.34 1739.81 588.02C1741.48 579.71 1743.14 570.56 1744.8 561.41C1746.47 552.27 1748.27 542.29 1749.79 533.14C1751.32 523.99 1752.7 514.84 1753.95 506.53C1755.2 498.21 1756.17 491 1757.28 483.24C1758.39 475.48 1759.63 468.07 1760.6 459.96C1761.57 451.84 1761.85 445.44 1763.1 434.55C1764.35 423.67 1766.42 407.66 1768.09 394.64C1769.75 381.61 1771.41 368.3 1773.08 356.38C1774.74 344.46 1776.4 333.37 1778.07 323.12C1779.73 312.86 1781.39 303.44 1783.06 294.84C1784.72 286.25 1786.38 278.49 1788.05 271.56C1789.71 264.63 1791.37 258.53 1793.04 253.26C1794.7 248 1796.36 243.65 1798.02 239.96C1799.69 236.27 1802.18 232.61 1803.01 231.14L1814.66 231.14C1815.21 232.61 1816.74 235.44 1817.98 239.96C1819.23 244.48 1820.76 251.05 1822.14 258.25C1823.53 265.46 1824.91 274.05 1826.3 283.2C1827.69 292.35 1829.07 303.44 1830.46 313.14C1831.84 322.84 1833.09 331.71 1834.62 341.41C1836.14 351.12 1837.94 361.65 1839.6 371.35C1841.27 381.05 1842.93 390.76 1844.59 399.63C1846.26 408.5 1848.2 417.84 1849.58 424.57C1850.97 431.3 1851.52 434.1 1852.91 440C1854.3 445.9 1856.38 453.58 1857.9 459.96C1859.42 466.33 1860.67 471.05 1862.06 478.25C1863.44 485.46 1864.97 495.16 1866.22 503.2C1867.46 511.24 1868.43 518.17 1869.54 526.49C1870.65 534.8 1871.76 543.95 1872.87 553.1C1873.98 562.25 1875.09 572.22 1876.2 581.37C1877.3 590.52 1878.41 598.84 1879.52 607.98C1880.63 617.13 1881.88 627.39 1882.85 636.26C1883.82 645.13 1884.51 651.75 1885.34 661.21C1886.17 670.66 1886.81 682.65 1887.84 692.97C1888.87 703.3 1890.09 711.2 1891.54 723.16C1892.99 735.12 1894.86 751.43 1896.53 764.74C1898.19 778.05 1899.85 791.07 1901.52 802.99C1903.18 814.91 1904.93 826.76 1906.51 836.26C1908.09 845.76 1909.61 852.99 1911 860C1912.38 867.01 1913.35 871.37 1914.82 878.3C1916.29 885.23 1918.15 894.37 1919.81 901.58C1921.48 908.79 1923.14 915.44 1924.8 921.54C1926.47 927.64 1927.85 932.9 1929.79 938.17C1931.73 943.44 1934.23 948.7 1936.44 953.14C1938.66 957.57 1940.88 961.18 1943.1 964.78C1945.32 968.39 1947.81 972.4 1949.75 974.76C1951.69 977.12 1952.8 978.23 1954.74 978.92C1956.68 979.61 1959.45 979.33 1961.39 978.92C1963.33 978.5 1964.72 977.45 1966.38 976.42C1968.05 975.4 1969.71 973.6 1971.37 972.77C1973.04 971.93 1974.7 971.43 1976.36 971.43C1978.02 971.43 1979.41 971.38 1981.35 972.77C1983.29 974.15 1985.79 976.37 1988 979.75C1990.22 983.13 1992.44 988.34 1994.66 993.06C1996.87 997.77 1999.37 1003.87 2001.31 1008.02C2003.25 1012.18 2004.36 1014.68 2006.3 1018C2008.24 1021.33 2010.46 1024.66 2012.95 1027.98C2015.45 1031.31 2018.5 1034.77 2021.27 1037.96C2024.04 1041.15 2026.81 1044.34 2029.58 1047.11C2032.36 1049.88 2035.41 1052.65 2037.9 1054.59C2040.4 1056.53 2042.34 1057.78 2044.55 1058.75C2046.77 1059.72 2048.16 1060.14 2051.21 1060.42C2054.26 1060.69 2059.52 1060.14 2062.85 1060.42C2066.17 1060.69 2068.12 1061.25 2071.16 1062.08C2074.21 1062.91 2077.54 1064.02 2081.14 1065.41C2084.75 1066.79 2088.63 1068.73 2092.79 1070.4C2096.94 1072.06 2101.93 1073.44 2106.09 1075.38C2110.25 1077.33 2113.85 1080.37 2117.73 1082.04C2121.61 1083.7 2125.77 1084.45 2129.38 1085.36C2132.98 1086.28 2136.03 1087.53 2139.36 1087.53C2142.68 1087.53 2145.45 1086.69 2149.33 1085.36C2153.22 1084.03 2158.21 1081.48 2162.64 1079.54C2167.08 1077.6 2171.51 1075.52 2175.95 1073.72C2180.38 1071.92 2185.65 1070.4 2189.25 1068.73C2192.86 1067.07 2194.52 1066.1 2197.57 1063.74C2200.62 1061.39 2204.22 1057.78 2207.55 1054.59C2210.87 1051.41 2214.75 1047.11 2217.53 1044.62C2220.3 1042.12 2222.1 1040.87 2224.18 1039.63C2226.26 1038.38 2228.49 1037.67 2230 1037.13C2231.51 1036.59 2229.94 1036.51 2233.26 1036.38C2236.57 1036.26 2246.01 1036.94 2249.89 1036.38C2253.77 1035.83 2254.33 1034.86 2256.54 1033.06C2258.76 1031.25 2260.98 1029.18 2263.2 1025.57C2265.41 1021.97 2267.63 1016.56 2269.85 1011.43C2272.07 1006.31 2274.56 999.51 2276.5 994.8C2278.44 990.09 2279.83 986.35 2281.49 983.16C2283.15 979.97 2284.82 977.48 2286.48 975.68C2288.14 973.87 2289.53 972.99 2291.47 972.35C2293.41 971.71 2295.91 971.57 2298.12 971.85C2300.34 972.13 2302.84 973.37 2304.78 974.01C2306.72 974.65 2307.27 975.48 2309.77 975.68C2312.26 975.87 2316.97 975.73 2319.74 975.18C2322.52 974.62 2323.63 974.21 2326.4 972.35C2329.17 970.49 2333.33 967.22 2336.38 964.03C2339.43 960.85 2341.92 956.83 2344.69 953.22C2347.46 949.62 2350.24 945.74 2353.01 942.41C2355.78 939.09 2358.83 935.48 2361.32 933.26C2363.82 931.05 2365.76 930.08 2367.98 929.11C2370.19 928.14 2372.41 927.58 2374.63 927.44C2376.85 927.3 2379.62 927.91 2381.28 928.27C2382.95 928.63 2384.05 929.38 2384.61 929.6" stroke="#464646" stroke-width="1.8"/>
<path d="M260.31 1185.99C261.37 1185.65 264.89 1184.6 266.63 1183.99C268.38 1183.38 269.4 1182.19 270.79 1182.33C272.18 1182.47 273.15 1184.19 274.95 1184.82C276.75 1185.46 279.8 1185.32 281.6 1186.15C283.4 1186.99 284.1 1187.6 285.76 1189.81C287.42 1192.03 289.64 1197.8 291.58 1199.46C293.52 1201.12 295.46 1198.91 297.4 1199.79C299.34 1200.68 301.42 1202.56 303.22 1204.78C305.02 1207 306.55 1210.1 308.21 1213.1C309.88 1216.09 311.54 1220.53 313.2 1222.74C314.86 1224.96 316.67 1225.57 318.19 1226.4C319.72 1227.23 320.82 1228.01 322.35 1227.73C323.87 1227.46 325.26 1226.63 327.34 1224.74C329.42 1222.86 332.61 1218.64 334.82 1216.42C337.04 1214.21 338.84 1213.79 340.64 1211.43C342.45 1209.08 344.11 1205.47 345.63 1202.29C347.16 1199.1 347.71 1194.94 349.79 1192.31C351.87 1189.67 355.34 1187.6 358.11 1186.49C360.88 1185.38 363.1 1185.74 366.42 1185.65C369.75 1185.57 375.29 1185.57 378.07 1185.99C380.84 1186.4 380.84 1186.96 383.06 1188.15C385.27 1189.34 388.88 1192.17 391.37 1193.14C393.87 1194.11 394.98 1193.97 398.02 1193.97C401.07 1193.97 406.9 1193.42 409.67 1193.14C412.44 1192.86 412.72 1191.42 414.66 1192.31C416.6 1193.19 418.54 1196.38 421.31 1198.46C424.08 1200.54 427.96 1203.73 431.29 1204.78C434.62 1205.84 438.22 1203.81 441.27 1204.78C444.32 1205.75 447.37 1209.36 449.58 1210.6C451.8 1211.85 452.63 1211.16 454.57 1212.27C456.51 1213.37 459.01 1216.01 461.23 1217.26C463.44 1218.5 465.66 1217.81 467.88 1219.75C470.1 1221.69 472.59 1225.57 474.53 1228.9C476.47 1232.22 478 1236.66 479.52 1239.71C481.05 1242.76 482.02 1245.95 483.68 1247.19C485.34 1248.44 487.7 1247.33 489.5 1247.19C491.3 1247.05 492.55 1245.11 494.49 1246.36C496.43 1247.61 499.06 1252.96 501.14 1254.68C503.22 1256.4 505.16 1256.53 506.96 1256.67C508.77 1256.81 509.88 1256.81 511.95 1255.51C514.03 1254.21 517.36 1250.38 519.44 1248.86C521.52 1247.33 522.77 1246.5 524.43 1246.36C526.09 1246.22 527.89 1247.89 529.42 1248.02C530.94 1248.16 531.91 1248.86 533.58 1247.19C535.24 1245.53 537.32 1240.82 539.4 1238.05C541.48 1235.27 543.56 1231.95 546.05 1230.56C548.54 1229.18 551.04 1229.81 554.37 1229.73C557.69 1229.65 562.96 1228.81 566.01 1230.06C569.06 1231.31 570.58 1235.74 572.66 1237.21C574.74 1238.68 575.99 1239.15 578.48 1238.88C580.98 1238.6 585 1236.24 587.63 1235.55C590.26 1234.86 591.51 1236.11 594.28 1234.72C597.05 1233.33 601.21 1229.31 604.26 1227.23C607.31 1225.16 609.81 1222.11 612.58 1222.25C615.35 1222.38 618.12 1226.96 620.89 1228.07C623.67 1229.18 625.88 1228.68 629.21 1228.9C632.54 1229.12 637.39 1228.93 640.85 1229.4C644.32 1229.87 647.37 1231.19 650 1231.73C652.63 1232.26 652.49 1232.47 656.65 1232.62C660.81 1232.77 669.68 1231.73 674.95 1232.62C680.21 1233.51 683.54 1236.5 688.25 1237.94C692.97 1239.38 698.79 1239.94 703.22 1241.27C707.66 1242.6 711.26 1244.95 714.86 1245.93C718.47 1246.9 718.75 1246.9 724.84 1247.09C730.94 1247.28 745.08 1246.12 751.46 1247.09C757.83 1248.06 759.22 1251.16 763.1 1252.91C766.98 1254.66 769.2 1256.74 774.74 1257.57C780.28 1258.4 790.54 1257.43 796.36 1257.9C802.18 1258.37 805.51 1259.56 809.67 1260.4C813.83 1261.23 817.43 1262.47 821.31 1262.89C825.19 1263.31 829.9 1263.44 832.95 1262.89C836 1262.34 837.39 1261.78 839.6 1259.56C841.82 1257.35 844.04 1253.74 846.26 1249.58C848.48 1245.43 850.69 1240.44 852.91 1234.62C855.13 1228.79 857.62 1220.34 859.56 1214.66C861.5 1208.97 862.89 1204.54 864.55 1200.52C866.22 1196.5 867.88 1193.31 869.54 1190.54C871.21 1187.77 872.87 1185.47 874.53 1183.89C876.2 1182.31 877.3 1181.53 879.52 1181.06C881.74 1180.59 885.62 1180.59 887.84 1181.06C890.06 1181.53 890.33 1182.17 892.83 1183.89C895.32 1185.61 899.48 1188.88 902.81 1191.37C906.13 1193.87 909.74 1196.58 912.79 1198.86C915.84 1201.13 918.61 1203.71 921.1 1205.01C923.6 1206.31 925.54 1206.67 927.75 1206.67C929.97 1206.67 931.91 1206.45 934.41 1205.01C936.9 1203.57 940.23 1201.13 942.72 1198.02C945.22 1194.92 946.88 1191.93 949.38 1186.38C951.87 1180.84 954.92 1172.52 957.69 1164.76C960.46 1157 963.24 1148.13 966.01 1139.81C968.78 1131.5 971.55 1121.66 974.32 1114.86C977.1 1108.07 980.15 1103.28 982.64 1099.06C985.14 1094.85 987.35 1092 989.29 1089.58C991.23 1087.17 992.76 1085.7 994.28 1084.59C995.81 1083.49 997.05 1083.1 998.44 1082.93C999.83 1082.77 1000.8 1082.57 1002.6 1083.6C1004.4 1084.62 1006.48 1086.09 1009.25 1089.09C1012.02 1092.08 1015.9 1097.4 1019.23 1101.56C1022.56 1105.72 1025.88 1110.57 1029.21 1114.03C1032.54 1117.5 1035.72 1120.27 1039.19 1122.35C1042.65 1124.43 1047.09 1125.82 1050 1126.51C1052.91 1127.2 1054.44 1125.94 1056.65 1126.49C1058.87 1127.04 1061.09 1128.01 1063.31 1129.81C1065.52 1131.61 1067.74 1134.25 1069.96 1137.3C1072.18 1140.35 1074.39 1143.53 1076.61 1148.11C1078.83 1152.68 1081.05 1159.2 1083.26 1164.74C1085.48 1170.28 1087.7 1176.11 1089.92 1181.37C1092.13 1186.64 1094.35 1191.63 1096.57 1196.34C1098.79 1201.05 1101.28 1206.46 1103.22 1209.65C1105.16 1212.83 1106.27 1214.03 1108.21 1215.47C1110.15 1216.91 1112.37 1217.46 1114.86 1218.3C1117.36 1219.13 1120.69 1219.4 1123.18 1220.46C1125.68 1221.51 1127.62 1223.09 1129.83 1224.62C1132.05 1226.14 1134.55 1228.55 1136.49 1229.6C1138.43 1230.66 1139.81 1230.99 1141.48 1230.94C1143.14 1230.88 1144.8 1231.16 1146.47 1229.27C1148.13 1227.39 1149.79 1224.56 1151.46 1219.63C1153.12 1214.69 1154.78 1207.15 1156.44 1199.67C1158.11 1192.18 1159.77 1183.04 1161.43 1174.72C1163.1 1166.4 1164.76 1156.7 1166.42 1149.77C1168.09 1142.84 1169.89 1137.02 1171.41 1133.14C1172.94 1129.26 1174.32 1127.87 1175.57 1126.49C1176.82 1125.1 1177.79 1124.82 1178.9 1124.82C1180.01 1124.82 1181.12 1124.82 1182.22 1126.49C1183.33 1128.15 1184.3 1130.37 1185.55 1134.8C1186.8 1139.24 1188.32 1146.17 1189.71 1153.1C1191.09 1160.03 1192.48 1169.18 1193.87 1176.38C1195.25 1183.59 1196.64 1190.8 1198.02 1196.34C1199.41 1201.88 1200.8 1206.6 1202.18 1209.65C1203.57 1212.7 1205.09 1213.8 1206.34 1214.64C1207.59 1215.47 1208.42 1215.47 1209.67 1214.64C1210.91 1213.8 1212.44 1212.42 1213.83 1209.65C1215.21 1206.87 1216.46 1203.27 1217.98 1198C1219.51 1192.74 1221.31 1184.98 1222.97 1178.05C1224.64 1171.12 1226.3 1163.63 1227.96 1156.42C1229.63 1149.22 1231.29 1141.18 1232.95 1134.8C1234.62 1128.43 1236.42 1122.11 1237.94 1118.17C1239.47 1114.23 1240.71 1112.57 1242.1 1111.19C1243.49 1109.8 1244.87 1109.74 1246.26 1109.85C1247.64 1109.97 1248.89 1110.6 1250.42 1111.85C1251.94 1113.1 1253.74 1115.79 1255.41 1117.34C1257.07 1118.89 1258.73 1120.42 1260.4 1121.16C1262.06 1121.91 1263.72 1122.11 1265.38 1121.83C1267.05 1121.55 1268.57 1121.36 1270.37 1119.5C1272.18 1117.64 1274.26 1113.82 1276.2 1110.69C1278.14 1107.55 1280.21 1103.48 1282.02 1100.71C1283.82 1097.93 1285.48 1095.52 1287.01 1094.05C1288.53 1092.58 1289.78 1091.98 1291.16 1091.89C1292.55 1091.81 1293.8 1092.09 1295.32 1093.56C1296.85 1095.02 1298.65 1097.57 1300.31 1100.71C1301.98 1103.84 1303.64 1107.78 1305.3 1112.35C1306.96 1116.92 1308.49 1123.02 1310.29 1128.15C1312.09 1133.28 1314.17 1139.38 1316.11 1143.12C1318.05 1146.86 1320.13 1149 1321.93 1150.6C1323.74 1152.21 1325.26 1152.9 1326.92 1152.77C1328.59 1152.63 1330.11 1151.93 1331.91 1149.77C1333.71 1147.61 1335.79 1143.95 1337.73 1139.79C1339.67 1135.63 1341.61 1129.81 1343.56 1124.82C1345.5 1119.83 1347.57 1113.87 1349.38 1109.85C1351.18 1105.84 1352.7 1102.79 1354.37 1100.71C1356.03 1098.63 1357.69 1097.85 1359.36 1097.38C1361.02 1096.91 1362.82 1096.91 1364.35 1097.88C1365.87 1098.85 1366.84 1100.1 1368.5 1103.2C1370.17 1106.31 1372.38 1112.63 1374.32 1116.51C1376.26 1120.39 1378.21 1123.77 1380.15 1126.49C1382.09 1129.2 1383.89 1131.37 1385.97 1132.81C1388.05 1134.25 1390.12 1134.86 1392.62 1135.14C1395.11 1135.41 1398.16 1135.5 1400.94 1134.47C1403.71 1133.44 1406.76 1130.87 1409.25 1128.98C1411.75 1127.1 1413.69 1124.63 1415.9 1123.16C1418.12 1121.69 1420.34 1120.58 1422.56 1120.17C1424.77 1119.75 1426.99 1119.75 1429.21 1120.67C1431.43 1121.58 1433.65 1122.74 1435.86 1125.65C1438.08 1128.57 1440.16 1133.28 1442.52 1138.13C1444.87 1142.98 1447.93 1150.88 1450 1154.76C1452.07 1158.64 1453.29 1159.7 1454.95 1161.41C1456.6 1163.13 1458.27 1165.07 1459.94 1165.07C1461.6 1165.07 1463.26 1163.69 1464.93 1161.41C1466.59 1159.14 1468.25 1155.87 1469.92 1151.43C1471.58 1147 1473.24 1141.46 1474.91 1134.8C1476.57 1128.15 1478.23 1119.28 1479.9 1111.52C1481.56 1103.76 1483.22 1095.16 1484.89 1088.23C1486.55 1081.3 1488.21 1074.65 1489.88 1069.94C1491.54 1065.23 1493.34 1062.26 1494.86 1059.96C1496.39 1057.66 1497.78 1056.88 1499.02 1056.13C1500.27 1055.38 1501.1 1055.25 1502.35 1055.47C1503.6 1055.69 1504.98 1055.88 1506.51 1057.46C1508.03 1059.04 1509.83 1061.9 1511.5 1064.95C1513.16 1068 1514.82 1072.43 1516.49 1075.76C1518.15 1079.09 1519.81 1082.27 1521.48 1084.91C1523.14 1087.54 1524.8 1089.62 1526.47 1091.56C1528.13 1093.5 1529.79 1095.02 1531.46 1096.55C1533.12 1098.07 1534.5 1099.04 1536.44 1100.71C1538.39 1102.37 1540.88 1104.31 1543.1 1106.53C1545.32 1108.75 1547.53 1111.24 1549.75 1114.01C1551.97 1116.78 1554.19 1119.7 1556.4 1123.16C1558.62 1126.63 1561.12 1130.92 1563.06 1134.8C1565 1138.68 1566.38 1142.29 1568.05 1146.44C1569.71 1150.6 1571.37 1154.76 1573.04 1159.75C1574.7 1164.74 1576.36 1170.56 1578.02 1176.38C1579.69 1182.2 1581.35 1188.58 1583.01 1194.68C1584.68 1200.78 1586.34 1207.15 1588 1212.97C1589.67 1218.79 1591.33 1224.62 1592.99 1229.6C1594.66 1234.59 1596.32 1239.45 1597.98 1242.91C1599.65 1246.38 1601.31 1249.84 1602.97 1250.4C1604.64 1250.95 1606.44 1249.15 1607.96 1246.24C1609.49 1243.33 1610.73 1239.03 1612.12 1232.93C1613.51 1226.83 1614.89 1217.96 1616.28 1209.65C1617.66 1201.33 1619.05 1192.18 1620.44 1183.04C1621.82 1173.89 1623.21 1164.19 1624.59 1154.76C1625.98 1145.34 1627.37 1135.36 1628.75 1126.49C1630.14 1117.62 1631.52 1109.02 1632.91 1101.54C1634.3 1094.05 1635.68 1086.85 1637.07 1081.58C1638.45 1076.31 1639.98 1072.57 1641.23 1069.94C1642.47 1067.3 1643.31 1066.47 1644.55 1065.78C1645.8 1065.09 1647.33 1065.09 1648.71 1065.78C1650.1 1066.47 1651.48 1068.36 1652.87 1069.94C1654.26 1071.52 1655.64 1074.01 1657.03 1075.26C1658.41 1076.51 1659.66 1077.53 1661.19 1077.42C1662.71 1077.31 1664.51 1076.4 1666.17 1074.59C1667.84 1072.79 1669.5 1070.16 1671.16 1066.61C1672.83 1063.06 1674.48 1058.93 1676.15 1053.31C1677.82 1047.69 1679.51 1040.73 1681.19 1032.89C1682.86 1025.05 1684.51 1015.7 1686.17 1006.28C1687.84 996.85 1689.5 985.77 1691.16 976.34C1692.83 966.92 1694.49 958.05 1696.15 949.73C1697.82 941.41 1699.48 933.93 1701.14 926.44C1702.81 918.96 1704.47 911.2 1706.13 904.82C1707.8 898.45 1709.46 892.97 1711.12 888.19C1712.79 883.42 1713.89 880.4 1716.11 876.17C1718.33 871.95 1721.93 867.03 1724.43 862.87C1726.92 858.71 1728.86 856.77 1731.08 851.23C1733.3 845.68 1735.79 837.37 1737.73 829.6C1739.67 821.84 1741.06 814.64 1742.72 804.66C1744.39 794.68 1746.05 782.2 1747.71 769.73C1749.38 757.26 1750.97 745.96 1752.7 729.81C1754.44 713.67 1756.65 686.22 1758.11 672.85C1759.56 659.47 1760.33 657.33 1761.43 649.56C1762.54 641.8 1763.65 633.21 1764.76 626.28C1765.87 619.35 1766.84 613.8 1768.09 607.98C1769.33 602.16 1770.86 596.06 1772.25 591.35C1773.63 586.64 1774.6 584.14 1776.4 579.71C1778.21 575.27 1780.98 569.45 1783.06 564.74C1785.14 560.03 1787.21 556.42 1788.88 551.43C1790.54 546.44 1791.65 540.9 1793.04 534.8C1794.42 528.7 1795.81 521.5 1797.19 514.84C1798.58 508.19 1799.97 500.71 1801.35 494.89C1802.74 489.06 1804.26 483.52 1805.51 479.92C1806.76 476.31 1807.73 474.71 1808.84 473.26C1809.94 471.82 1811.05 471.13 1812.16 471.27C1813.27 471.41 1814.38 472.1 1815.49 474.1C1816.6 476.09 1817.71 479.5 1818.81 483.24C1819.92 486.99 1820.89 489.9 1822.14 496.55C1823.39 503.2 1824.91 513.74 1826.3 523.16C1827.69 532.58 1829.07 543.12 1830.46 553.1C1831.84 563.08 1833.23 573.61 1834.62 583.04C1836 592.46 1837.39 600.78 1838.77 609.65C1840.16 618.52 1841.55 627.66 1842.93 636.26C1844.32 644.85 1845.64 649.49 1847.09 661.21C1848.54 672.92 1850.03 692.6 1851.62 706.53C1853.21 720.46 1854.95 732.31 1856.61 744.78C1858.27 757.26 1859.94 768.9 1861.6 781.37C1863.26 793.85 1864.93 807.15 1866.59 819.63C1868.25 832.1 1869.92 843.67 1871.58 856.22C1873.24 868.77 1874.91 882.38 1876.57 894.93C1878.23 907.48 1879.9 919.6 1881.56 931.52C1883.22 943.44 1884.89 955.36 1886.55 966.44C1888.21 977.53 1889.88 988.07 1891.54 998.05C1893.2 1008.02 1894.86 1017.66 1896.53 1026.32C1898.19 1034.98 1899.85 1042.45 1901.52 1050C1903.18 1057.55 1904.84 1064.69 1906.51 1071.62C1908.17 1078.55 1909.83 1085.2 1911.5 1091.58C1913.16 1097.96 1914.82 1103.78 1916.49 1109.88C1918.15 1115.97 1919.81 1122.35 1921.48 1128.17C1923.14 1133.99 1924.8 1139.54 1926.47 1144.8C1928.13 1150.07 1929.51 1153.95 1931.46 1159.77C1933.4 1165.59 1935.89 1173.91 1938.11 1179.73C1940.33 1185.55 1942.82 1190.82 1944.76 1194.7C1946.7 1198.58 1948.09 1200.94 1949.75 1203.01C1951.41 1205.09 1953.08 1206.34 1954.74 1207.17C1956.4 1208 1957.79 1208.36 1959.73 1208C1961.67 1207.64 1964.16 1206.06 1966.38 1205.01C1968.6 1203.96 1971.09 1202.52 1973.04 1201.68C1974.98 1200.85 1976.36 1200.21 1978.02 1200.02C1979.69 1199.83 1981.35 1199.88 1983.01 1200.52C1984.68 1201.16 1985.79 1201.77 1988 1203.85C1990.22 1205.93 1993.83 1210.08 1996.32 1212.99C1998.81 1215.9 2001.03 1219.09 2002.97 1221.31C2004.91 1223.53 2005.74 1224.64 2007.96 1226.3C2010.18 1227.96 2013.78 1229.35 2016.28 1231.29C2018.77 1233.23 2020.71 1235.72 2022.93 1237.94C2025.15 1240.16 2027.37 1241.82 2029.58 1244.59C2031.8 1247.37 2034.02 1251.11 2036.24 1254.57C2038.45 1258.04 2040.67 1262.06 2042.89 1265.38C2045.11 1268.71 2047.6 1272.04 2049.54 1274.53C2051.48 1277.03 2052.87 1278.75 2054.53 1280.35C2056.2 1281.96 2057.86 1283.35 2059.52 1284.18C2061.19 1285.01 2062.85 1285.34 2064.51 1285.34C2066.17 1285.34 2067.84 1285.15 2069.5 1284.18C2071.16 1283.21 2072.55 1281.96 2074.49 1279.52C2076.43 1277.08 2078.93 1272.73 2081.14 1269.54C2083.36 1266.35 2085.58 1263.03 2087.8 1260.4C2090.01 1257.76 2092.51 1255.13 2094.45 1253.74C2096.39 1252.36 2097.78 1252.22 2099.44 1252.08C2101.1 1251.94 2102.77 1251.94 2104.43 1252.91C2106.09 1253.88 2107.48 1255.82 2109.42 1257.9C2111.36 1259.98 2114.13 1263.39 2116.07 1265.38C2118.01 1267.38 2119.12 1268.77 2121.06 1269.88C2123 1270.98 2125.5 1271.59 2127.71 1272.04C2129.93 1272.48 2131.32 1272.81 2134.37 1272.54C2137.42 1272.26 2141.85 1271.09 2146.01 1270.37C2150.17 1269.65 2154.88 1269.04 2159.31 1268.21C2163.75 1267.38 2168.46 1266.55 2172.62 1265.38C2176.78 1264.22 2180.66 1262.75 2184.26 1261.23C2187.87 1259.7 2190.91 1258.45 2194.24 1256.24C2197.57 1254.02 2200.89 1250.97 2204.22 1247.92C2207.55 1244.87 2211.15 1240.85 2214.2 1237.94C2217.25 1235.03 2219.88 1232.67 2222.52 1230.46C2225.15 1228.24 2227.66 1226.11 2230 1224.64C2232.34 1223.17 2233.82 1222.61 2236.58 1221.64C2239.34 1220.67 2243.79 1219.84 2246.56 1218.81C2249.34 1217.79 2251 1217.29 2253.22 1215.49C2255.43 1213.69 2257.65 1211.19 2259.87 1208C2262.09 1204.82 2264.58 1200.52 2266.52 1196.36C2268.46 1192.2 2269.85 1187.49 2271.51 1183.06C2273.17 1178.62 2274.84 1173.63 2276.5 1169.75C2278.16 1165.87 2279.83 1162.54 2281.49 1159.77C2283.15 1157 2284.82 1154.92 2286.48 1153.12C2288.14 1151.32 2289.25 1149.65 2291.47 1148.96C2293.69 1148.27 2297.29 1148.68 2299.79 1148.96C2302.28 1149.24 2303.94 1150.4 2306.44 1150.62C2308.93 1150.85 2312.26 1150.85 2314.75 1150.29C2317.25 1149.74 2319.19 1148.49 2321.41 1147.3C2323.63 1146.11 2325.84 1145.22 2328.06 1143.14C2330.28 1141.06 2332.5 1137.73 2334.71 1134.82C2336.93 1131.91 2339.15 1128.59 2341.37 1125.68C2343.58 1122.77 2345.8 1119.3 2348.02 1117.36C2350.24 1115.42 2352.18 1115.23 2354.67 1114.03C2357.17 1112.84 2360.22 1111.04 2362.99 1110.21C2365.76 1109.38 2367.76 1109.29 2371.3 1109.04C2374.85 1108.79 2382.11 1108.77 2384.28 1108.71" stroke="#ff4a32" stroke-width="1.8"/>
</g>
<g font-size="40.6" fill="#000" stroke="#000" stroke-width="0.25">
<text transform="translate(452.27 792.4) scale(0.9930 1)">Sycamore maple PA,</text>
<text transform="translate(521.29 840) scale(0.9930 1)">PD before UV</text>
<text transform="translate(344.37 1124.9) scale(0.9930 1)">Spruce MA, MD before UV</text>
</g>
<line x1="715" y1="867" x2="660" y2="1035" stroke="#333" stroke-width="1.6"/>
<polygon points="655,1029.3 667.5,1033.8 656.7,1047.1" fill="#000"/>
<line x1="444.8" y1="1148" x2="420" y2="1183" stroke="#ff3a20" stroke-width="1.5"/>
<polygon points="416.3,1176.2 427.1,1182 413.8,1192" fill="#ff2000"/>
</svg></body></html>
